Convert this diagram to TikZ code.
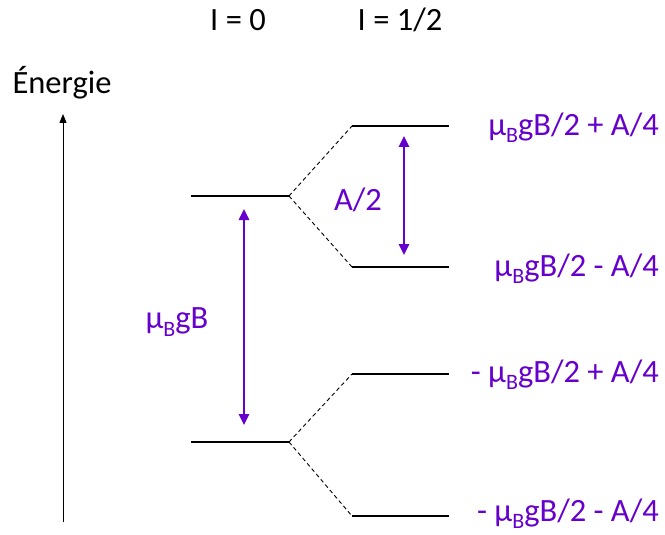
\documentclass[tikz,border=0pt]{standalone}
\usepackage{fontspec}
\setmainfont{Carlito}
\usetikzlibrary{arrows.meta}
\definecolor{vio}{RGB}{102,0,204}
\newcommand{\subB}{\raisebox{-0.22em}{\fontsize{22}{24}\selectfont B}}
\begin{document}
\begin{tikzpicture}[x=1pt,y=-1pt,
  lvl/.style={line width=2.5pt,black},
  split/.style={line width=0.9pt,dash pattern=on 4pt off 3pt},
  gap/.style={vio,line width=2.5pt,{Triangle[length=11pt,width=10pt]}-{Triangle[length=11pt,width=10pt]}},
  txt/.style={font=\fontsize{32.5}{38}\selectfont,inner sep=0pt},
  ptxt/.style={txt,text=vio}]
\useasboundingbox (0,0) rectangle (665,535);
% axis
\coordinate (ax0) at (63,522);
\coordinate (ax1) at (63,114);
\draw[line width=1pt,-{Triangle[length=9pt,width=7pt]}] (ax0) -- (ax1);
\node[txt] (en) at (62,83) {Énergie};
\node[txt] (i0) at (238,20) {I = 0};
\node[txt] (i1) at (400,20) {I = 1/2};
% levels
\coordinate (a1) at (191,196); \coordinate (a2) at (289,196);
\coordinate (b1) at (191,442); \coordinate (b2) at (289,442);
\coordinate (c1) at (352,126); \coordinate (c2) at (449,126);
\coordinate (d1) at (352,267); \coordinate (d2) at (449,267);
\coordinate (e1) at (352,374); \coordinate (e2) at (449,374);
\coordinate (f1) at (352,516); \coordinate (f2) at (449,516);
\draw[lvl] (a1) -- (a2);
\draw[lvl] (b1) -- (b2);
\draw[lvl] (c1) -- (c2);
\draw[lvl] (d1) -- (d2);
\draw[lvl] (e1) -- (e2);
\draw[lvl] (f1) -- (f2);
\draw[split] (a2) -- (c1);
\draw[split] (a2) -- (d1);
\draw[split] (b2) -- (e1);
\draw[split] (b2) -- (f1);
% gaps
\coordinate (g1) at (244,209); \coordinate (g2) at (244,425);
\coordinate (h1) at (404,136); \coordinate (h2) at (404,255);
\draw[gap] (g1) -- (g2);
\draw[gap] (h1) -- (h2);
\node[ptxt] (lg) at (177,322) {µ\subB gB};
\node[ptxt] (lh) at (358,200) {A/2};
% level labels
\node[ptxt,anchor=east] (lc) at (659,128) {µ\subB gB/2 + A/4};
\node[ptxt,anchor=east] (ld) at (659,269) {µ\subB gB/2 - A/4};
\node[ptxt,anchor=east] (le) at (659,375) {- µ\subB gB/2 + A/4};
\node[ptxt,anchor=east] (lf) at (659,514) {- µ\subB gB/2 - A/4};
\end{tikzpicture}
\end{document}
